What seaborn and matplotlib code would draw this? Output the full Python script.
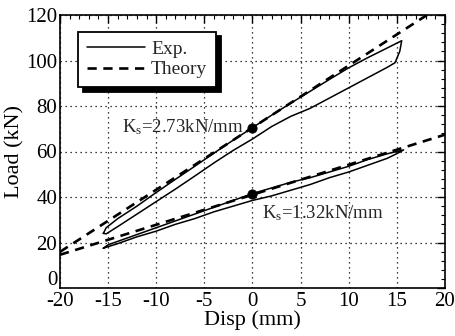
import numpy as np
import pandas as pd
import matplotlib
matplotlib.use("Agg")
import matplotlib.pyplot as plt
from matplotlib.ticker import MultipleLocator, FuncFormatter
import seaborn as sns

# ---- data ----
exp1_x = [-15.5, -15.2, -14, -12, -10, -8, -6, -4, -2, 0, 2, 4, 6, 8, 10, 12, 14, 15.5,
          15.3, 14.8, 14, 12, 10, 8, 6, 4, 2, 0, -2, -4, -6, -8, -10, -12, -14, -15.2, -15.5]
exp1_y = [24, 26.5, 30.5, 36, 42, 47.8, 53.5, 59.3, 65, 70.5, 76, 81.3, 86.5, 91.7, 96.8, 101.3, 105.5, 108.7,
          104, 99, 97, 92.5, 88, 83.5, 79, 75.5, 71, 65.5, 60.5, 55, 49.2, 43.5, 38, 32.5, 27, 23.8, 24]
exp2_x = [-15.5, -15, -12, -10, -8, -6, -4, -2, 0, 2, 4, 6, 8, 10, 12, 14, 15.7,
          15.2, 14, 12, 10, 8, 6, 4, 2, 0, -2, -4, -6, -8, -10, -12, -14, -15.5]
exp2_y = [17.5, 19, 23.5, 26.5, 29.5, 32.5, 35.5, 38.5, 41.5, 44, 46.5, 48.5, 51, 53.5, 56.5, 59, 60.7,
          59.5, 57, 54, 51, 48.5, 45.5, 43, 40.5, 38.5, 36, 33.5, 30.5, 28, 25, 22.5, 19.5, 17.5]
theory_x = [-20, 20]
theory1_y = [70.5 - 2.73 * 20, 70.5 + 2.73 * 20]
theory2_y = [41.0 - 1.32 * 20, 41.0 + 1.32 * 20]
dot_x = [0, 0]
dot_y = [70.5, 41.5]
labels = ["K$_\\mathrm{s}$=2.73kN/mm", "K$_\\mathrm{s}$=1.32kN/mm"]

sns.set_theme(style="white")
plt.rcParams['font.family'] = ['Liberation Serif', 'DejaVu Serif']
plt.rcParams['mathtext.fontset'] = 'custom'
plt.rcParams['mathtext.rm'] = 'Liberation Serif'
plt.rcParams['mathtext.it'] = 'Liberation Serif:italic'
plt.rcParams['axes.unicode_minus'] = False

fig = plt.figure(figsize=(4.56, 3.36), dpi=100)
ax = fig.add_axes([60/456, 48/336, 385/456, 273/336])

sns.lineplot(x=exp1_x, y=exp1_y, sort=False, estimator=None, color='black', lw=1.1, ax=ax, label='Exp.')
sns.lineplot(x=exp2_x, y=exp2_y, sort=False, estimator=None, color='black', lw=1.1, ax=ax)
sns.lineplot(x=theory_x, y=theory1_y, sort=False, estimator=None, color='black', lw=1.9,
             linestyle=(0, (3.5, 2.5)), ax=ax, label='Theory')
sns.lineplot(x=theory_x, y=theory2_y, sort=False, estimator=None, color='black', lw=1.9,
             linestyle=(0, (3.5, 2.5)), ax=ax)
sns.scatterplot(x=dot_x, y=dot_y, color='black', s=45, edgecolor='black', zorder=5, ax=ax)

ax.text(-0.9, 70.5, labels[0], ha='right', va='center', fontsize=13.5)
ax.text(1.0, 33.0, labels[1], ha='left', va='center', fontsize=13.5)

ax.set_xlim(-20, 20)
ax.set_ylim(0, 120)
ax.xaxis.set_major_locator(MultipleLocator(5))
ax.xaxis.set_minor_locator(MultipleLocator(1))
ax.yaxis.set_major_locator(MultipleLocator(20))
ax.yaxis.set_minor_locator(MultipleLocator(4))
ax.yaxis.set_major_formatter(FuncFormatter(lambda v, p: '' if abs(v) < 1e-9 else f'{v:g}'))
ax.tick_params(which='both', direction='in', top=True, right=True, color='black')
ax.tick_params(which='major', length=6, width=1, labelsize=15, pad=2)
ax.tick_params(axis='x', which='major', pad=3)
ax.tick_params(which='minor', length=3, width=0.8)
for s in ax.spines.values():
    s.set_color('black')
    s.set_linewidth(1.2)
ax.grid(True, which='major', color='black', linestyle=(0, (1, 3)), linewidth=0.9)
ax.set_xlabel('Disp (mm)', fontsize=16, labelpad=-1, color='black')
ax.set_ylabel('Load (kN)', fontsize=16, labelpad=1, color='black')
for t in ax.get_xticklabels() + ax.get_yticklabels():
    t.set_color('black')
# y label "0" nudged up slightly so it sits just above the "-20" x label
ax.annotate('0', xy=(0, 0), xycoords='axes fraction', xytext=(-2, 5.5), textcoords='offset points',
            ha='right', va='center', fontsize=15, color='black')

leg = ax.legend(loc='upper left', bbox_to_anchor=(0.022, 0.975), fontsize=14, frameon=True,
                fancybox=False, edgecolor='black', framealpha=1, handlelength=3.0,
                borderpad=0.45, labelspacing=0.15, handletextpad=0.3,
                shadow={'color': 'black', 'alpha': 1, 'ox': 3.5, 'oy': -3.5})
leg.get_frame().set_linewidth(1.3)

fig.savefig('out.png', dpi=100)
